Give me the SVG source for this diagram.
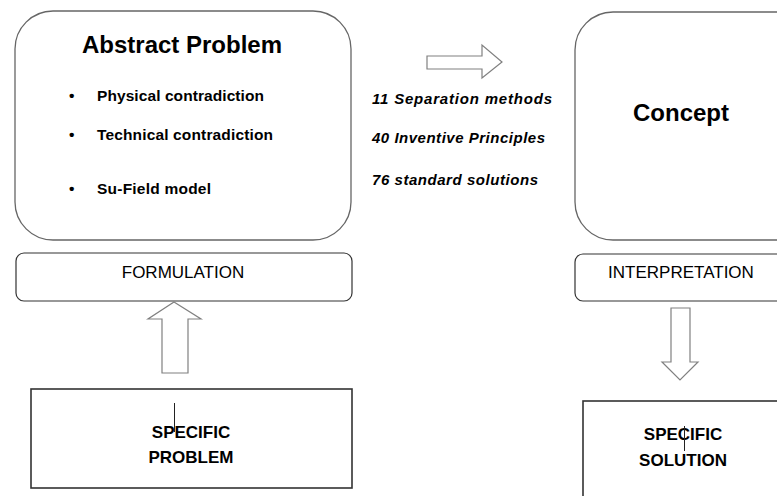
<svg xmlns="http://www.w3.org/2000/svg" width="777" height="496" viewBox="0 0 777 496">
<style>
text{font-family:"Liberation Sans",Arial,sans-serif;fill:#000}
.big{font-size:24px;font-weight:bold}
.bul{font-size:15.5px;font-weight:bold}
.it{font-size:15px;font-weight:bold;font-style:italic}
.reg{font-size:17px}
.sb{font-size:17px;font-weight:bold}
.rbox{fill:#fff;stroke:#666;stroke-width:1.3}
.lbox{fill:#fff;stroke:#333;stroke-width:1.2}
.sbox{fill:#fff;stroke:#333;stroke-width:1.6}
.arr{fill:#fff;stroke:#808080;stroke-width:1.2}
.cur{stroke:#222;stroke-width:1}
</style>
<rect width="777" height="496" fill="#fff"/>
<g id="abstract-problem">
<rect class="rbox" x="15" y="11" width="336" height="229" rx="38" ry="38"/>
<text class="big" x="182" y="53" text-anchor="middle">Abstract Problem</text>
<text class="bul" x="69" y="101">•</text>
<text class="bul" x="97" y="101" textLength="167" lengthAdjust="spacing">Physical contradiction</text>
<text class="bul" x="69" y="140">•</text>
<text class="bul" x="97" y="140" textLength="176" lengthAdjust="spacing">Technical contradiction</text>
<text class="bul" x="69" y="194">•</text>
<text class="bul" x="97" y="194" textLength="114" lengthAdjust="spacing">Su-Field model</text>
</g>
<g id="methods">
<text class="it" x="372" y="104" textLength="180" lengthAdjust="spacing">11 Separation  methods</text>
<text class="it" x="372" y="143" textLength="173" lengthAdjust="spacing">40 Inventive  Principles</text>
<text class="it" x="372" y="185" textLength="166" lengthAdjust="spacing">76 standard  solutions</text>
</g>
<g id="concept">
<rect class="rbox" x="575" y="12" width="240" height="228" rx="38" ry="38"/>
<text class="big" x="681" y="121" text-anchor="middle">Concept</text>
</g>
<g id="formulation">
<rect class="lbox" x="16" y="253" width="336" height="48" rx="8" ry="8"/>
<text class="reg" x="183" y="278" text-anchor="middle">FORMULATION</text>
</g>
<g id="interpretation">
<rect class="lbox" x="575" y="254" width="240" height="47" rx="8" ry="8"/>
<text class="reg" x="681" y="278" text-anchor="middle">INTERPRETATION</text>
</g>
<g id="specific-problem">
<rect class="sbox" x="31" y="389" width="321" height="99"/>
<text class="sb" x="191" y="438" text-anchor="middle">SPECIFIC</text>
<text class="sb" x="191" y="463" text-anchor="middle">PROBLEM</text>
<line class="cur" x1="174.5" y1="403" x2="174.5" y2="432"/>
</g>
<g id="specific-solution">
<rect class="sbox" x="583" y="401" width="240" height="120"/>
<text class="sb" x="683" y="440" text-anchor="middle">SPECIFIC</text>
<text class="sb" x="683" y="466" text-anchor="middle">SOLUTION</text>
<line class="cur" x1="684.5" y1="426" x2="684.5" y2="451"/>
</g>
<g id="connectors">
<polygon class="arr" points="427,56 482,56 482,45 502,62 482,78 482,69 427,69"/>
<polygon class="arr" points="174,302 201,319 188,319 188,373 162,373 162,319 148,319"/>
<polygon class="arr" points="671,308 690,308 690,362 698,362 680,380 662,362 671,362"/>
</g>
</svg>
